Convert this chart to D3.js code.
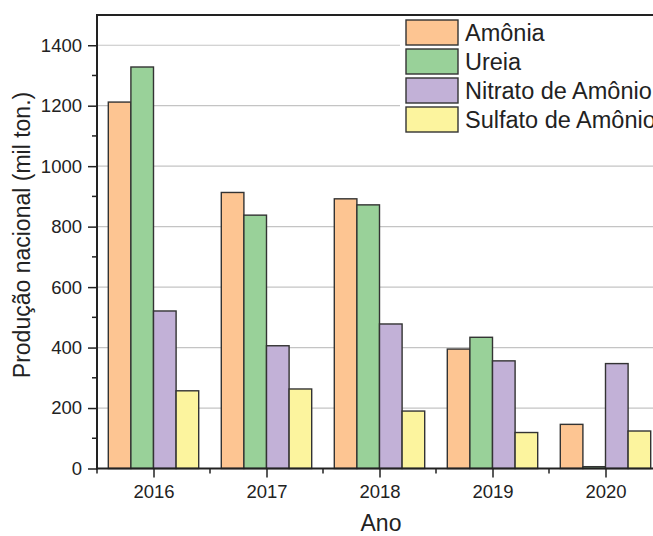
<!DOCTYPE html>
<html>
<head>
<meta charset="utf-8">
<script src="https://cdn.jsdelivr.net/npm/d3@7"></script>
<style>
  body { margin: 0; background: #fff; }
  svg { font-family: "Liberation Sans", Arial, sans-serif; }
</style>
</head>
<body>
<svg id="chart" width="653" height="536"></svg>
<script>
(function() {
  var years = ["2016", "2017", "2018", "2019", "2020"];
  var series = ["Amônia", "Ureia", "Nitrato de Amônio", "Sulfato de Amônio"];
  var amonia = [1212, 913, 892, 395, 146];
  var ureia = [1328, 838, 872, 434, 6];
  var nitrato = [521, 406, 478, 356, 347];
  var sulfato = [257, 263, 190, 119, 124];
  var colors = ["#fdc592", "#99d199", "#c2b1d7", "#fcf49e"];
  var yTicks = [0, 200, 400, 600, 800, 1000, 1200, 1400];

  var values = [amonia, ureia, nitrato, sulfato];
  var font = '"Liberation Sans", Arial, sans-serif';
  var svg = d3.select("#chart");
  var left = 97, right = 662, top = 15, bottom = 468.5;

  var x = d3.scaleBand().domain(years).range([left, right]).paddingInner(0.2).paddingOuter(0.1);
  var xs = d3.scaleBand().domain(d3.range(series.length)).range([0, x.bandwidth()]);
  var y = d3.scaleLinear().domain([0, 1500]).range([bottom, top]);

  // grid
  svg.append("g").selectAll("line").data(yTicks.slice(1)).enter().append("line")
    .attr("x1", left).attr("x2", right)
    .attr("y1", function(d) { return y(d); }).attr("y2", function(d) { return y(d); })
    .attr("stroke", "#c4c4c4").attr("stroke-width", 1.2);

  // bars
  var groups = svg.append("g").selectAll("g").data(years).enter().append("g")
    .attr("transform", function(d) { return "translate(" + x(d) + ",0)"; });
  groups.selectAll("rect").data(function(d, i) {
    return values.map(function(v, j) { return { s: j, v: v[i] }; });
  }).enter().append("rect")
    .attr("x", function(d) { return xs(d.s); })
    .attr("width", xs.bandwidth())
    .attr("y", function(d) { return y(d.v); })
    .attr("height", function(d) { return bottom - y(d.v); })
    .attr("fill", function(d) { return colors[d.s]; })
    .attr("stroke", "#333").attr("stroke-width", 1.4);

  // y axis
  var yAxis = svg.append("g").attr("transform", "translate(" + left + ",0)")
    .call(d3.axisLeft(y).tickValues(yTicks).tickFormat(d3.format("d")).tickSize(9).tickPadding(6));
  yAxis.attr("font-family", font).attr("font-size", 18.5);
  yAxis.selectAll("text").attr("fill", "#222");
  yAxis.select(".domain").remove();
  svg.append("g").selectAll("line").data(d3.range(100, 1500, 200)).enter().append("line")
    .attr("x1", left - 5).attr("x2", left)
    .attr("y1", function(d) { return y(d); }).attr("y2", function(d) { return y(d); })
    .attr("stroke", "#222").attr("stroke-width", 1.5);

  // x axis
  var xScalePoint = d3.scalePoint().domain(years).range([x(years[0]) + x.bandwidth() / 2, x(years[4]) + x.bandwidth() / 2]);
  var xAxis = svg.append("g").attr("transform", "translate(0," + bottom + ")")
    .call(d3.axisBottom(xScalePoint).tickSize(9).tickPadding(7));
  xAxis.attr("font-family", font).attr("font-size", 18.5);
  xAxis.selectAll("text").attr("fill", "#222");
  xAxis.select(".domain").remove();
  var step = x.step();
  svg.append("g").selectAll("line").data(d3.range(0, 6)).enter().append("line")
    .attr("x1", function(d) { return left + d * step; }).attr("x2", function(d) { return left + d * step; })
    .attr("y1", bottom).attr("y2", bottom + 5)
    .attr("stroke", "#222").attr("stroke-width", 1.5);
  svg.selectAll(".tick line").attr("stroke", "#222").attr("stroke-width", 1.5);

  // frame lines
  svg.append("line").attr("x1", left).attr("x2", left).attr("y1", top).attr("y2", bottom + 1)
    .attr("stroke", "#222").attr("stroke-width", 2);
  svg.append("line").attr("x1", left - 1).attr("x2", right).attr("y1", bottom).attr("y2", bottom)
    .attr("stroke", "#222").attr("stroke-width", 2);
  svg.append("line").attr("x1", left - 1).attr("x2", right).attr("y1", top).attr("y2", top)
    .attr("stroke", "#222").attr("stroke-width", 2);

  // axis titles
  svg.append("text").attr("x", 381).attr("y", 531)
    .attr("text-anchor", "middle").attr("font-size", 23).attr("fill", "#222").text("Ano");
  svg.append("text").attr("transform", "translate(30,235) rotate(-90)")
    .attr("text-anchor", "middle").attr("font-size", 23).attr("fill", "#222")
    .text("Produção nacional (mil ton.)");

  // legend
  var lg = svg.append("g").attr("transform", "translate(400,18)");
  lg.append("rect").attr("x", 0).attr("y", 0).attr("width", 270).attr("height", 118).attr("fill", "#fff");
  var item = lg.selectAll("g").data(series).enter().append("g")
    .attr("transform", function(d, i) { return "translate(6," + (2 + i * 29) + ")"; });
  item.append("rect").attr("width", 52).attr("height", 25)
    .attr("fill", function(d, i) { return colors[i]; })
    .attr("stroke", "#333").attr("stroke-width", 1.4);
  item.append("text").attr("x", 59).attr("y", 21).attr("font-size", 23.5).attr("fill", "#222")
    .text(function(d) { return d; });
})();
</script>
</body>
</html>
